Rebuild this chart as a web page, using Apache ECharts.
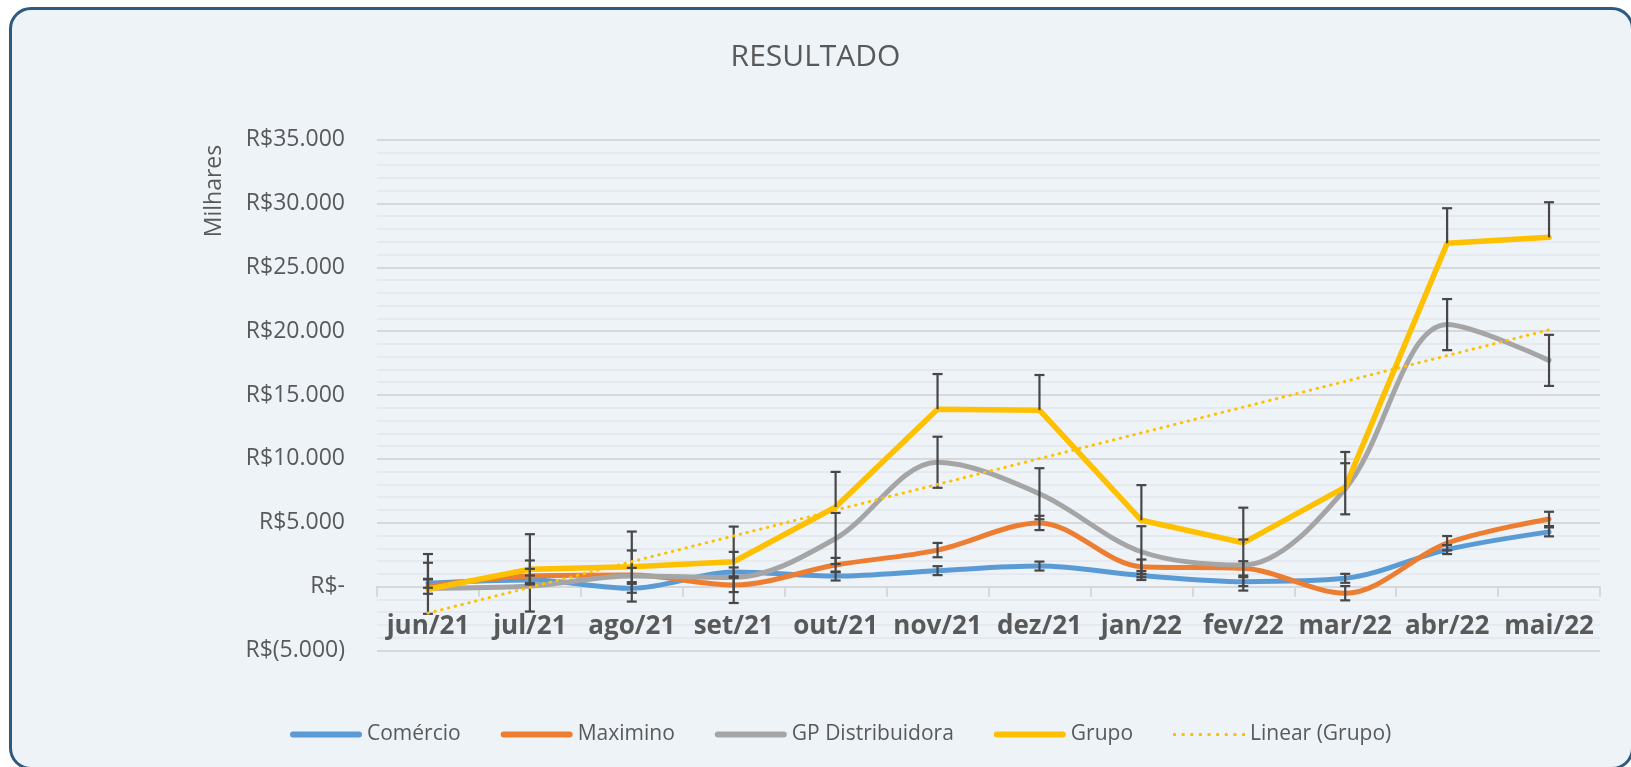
<!DOCTYPE html>
<html>
<head>
<meta charset="utf-8">
<title>RESULTADO</title>
<script src="https://cdn.jsdelivr.net/npm/echarts@6/dist/echarts.min.js"></script>
<style>
  html, body { margin: 0; padding: 0; background: #ffffff; }
  #frame {
    position: absolute; left: 9px; top: 7px;
    width: 1619px; height: 757px;
    border: 3px solid #2E5A80; border-radius: 22px;
    background: #EEF3F8;
  }
  #chart { position: absolute; left: 0; top: 0; width: 1631px; height: 767px; }
</style>
</head>
<body>
<div id="frame"></div>
<div id="chart"></div>
<script>
// dados (milhares de R$)
const months = ['jun/21', 'jul/21', 'ago/21', 'set/21', 'out/21', 'nov/21', 'dez/21', 'jan/22', 'fev/22', 'mar/22', 'abr/22', 'mai/22'];
const comercio = [260, 520, -130, 1150, 830, 1250, 1610, 870, 390, 650, 2900, 4285];
const maximino = [0, 830, 910, 130, 1690, 2860, 4985, 1560, 1430, -515, 3400, 5300];
const gpDistribuidora = [-130, 50, 830, 720, 3770, 9735, 7270, 2730, 1690, 7660, 20510, 17710];
const grupo = [-200, 1355, 1560, 1950, 6230, 13890, 13815, 5195, 3430, 7790, 26870, 27340];
// linha de tendência (primeiro e último mês)
const trendGrupo = [-2075, 20100];

// barras de erro (valor fixo por série)
const errComercio = 350;
const errMaximino = 560;
const errGP = 2000;
const errGrupoPlus = 2750;

const yTicks = { min: -5000, max: 35000, step: 5000 };

const textColor = '#595959';
const fontFam = '"Open Sans", "DejaVu Sans", sans-serif';

// ícones da legenda (linha grossa e pontilhado)
const iconLine = 'path://M3,0 H69 A3,3 0 0 1 69,6 H3 A3,3 0 0 1 3,0 Z';
let iconDots = 'path://';
for (let i = 0; i < 9; i++) {
  const x = (i * 8.6).toFixed(1);
  iconDots += 'M' + x + ',1.5 h3 v3 h-3 Z ';
}

function fmtThousands(v) {
  return String(Math.round(v)).replace(/\B(?=(\d{3})+(?!\d))/g, '.');
}
function fmtReal(v) {
  if (v === 0) return 'R$-';
  if (v < 0) return 'R$(' + fmtThousands(-v) + ')';
  return 'R$' + fmtThousands(v);
}

// [idx, low, high, lowCap]
function errData(values, minus, plus) {
  return values.map((v, i) => [i, v - minus, v + plus, minus > 0 ? 1 : 0]);
}

function renderErrorBar(params, api) {
  const idx = api.value(0);
  const lo = api.coord([idx, api.value(1)]);
  const hi = api.coord([idx, api.value(2)]);
  const half = 5;
  const style = { stroke: '#474747', lineWidth: 2.2, fill: null };
  const children = [
    { type: 'line', shape: { x1: hi[0], y1: hi[1], x2: lo[0], y2: lo[1] }, style },
    { type: 'line', shape: { x1: hi[0] - half, y1: hi[1], x2: hi[0] + half, y2: hi[1] }, style }
  ];
  if (api.value(3)) {
    children.push({ type: 'line', shape: { x1: lo[0] - half, y1: lo[1], x2: lo[0] + half, y2: lo[1] }, style });
  }
  return { type: 'group', children };
}

function lineSeries(name, data, color, smooth, width) {
  return {
    name, type: 'line', data, smooth, symbol: 'none',
    lineStyle: { color, width, cap: 'round', join: 'round' },
    itemStyle: { color },
    z: 3
  };
}

function errSeries(data) {
  return {
    type: 'custom', renderItem: renderErrorBar, data,
    encode: { x: 0, y: [1, 2] }, silent: true, z: 4
  };
}

const chart = echarts.init(document.getElementById('chart'));

const gridTop = 139.5, gridBottom = 116.5, gridH = 767 - gridTop - gridBottom;
// desloca o eixo x até o zero
const zeroOffset = -gridH * (0 - yTicks.min) / (yTicks.max - yTicks.min);

const option = {
  animation: false,
  backgroundColor: 'transparent',
  textStyle: { fontFamily: fontFam },
  title: {
    text: 'RESULTADO',
    left: 'center', top: 37,
    textStyle: { fontFamily: fontFam, fontSize: 30, fontWeight: 'normal', color: textColor }
  },
  legend: {
    left: 285, top: 719,
    itemWidth: 72, itemHeight: 6, itemGap: 40,
    textStyle: { fontFamily: fontFam, fontSize: 21, color: textColor },
    data: [
      { name: 'Comércio', icon: iconLine },
      { name: 'Maximino', icon: iconLine },
      { name: 'GP Distribuidora', icon: iconLine },
      { name: 'Grupo', icon: iconLine },
      { name: 'Linear (Grupo)', icon: iconDots }
    ]
  },
  grid: { left: 377, right: 31, top: gridTop, bottom: gridBottom, containLabel: false },
  xAxis: {
    type: 'category',
    data: months,
    boundaryGap: true,
    position: 'bottom',
    offset: zeroOffset,
    axisLine: { onZero: false, lineStyle: { color: '#D6D8DB', width: 2 } },
    axisTick: { show: true, length: 10, lineStyle: { color: '#D6D8DB', width: 2 } },
    axisLabel: { interval: 0, margin: 27, fontFamily: fontFam, fontSize: 26, fontWeight: 'bold', color: textColor },
    splitLine: { show: false }
  },
  yAxis: {
    type: 'value',
    min: yTicks.min, max: yTicks.max, interval: yTicks.step,
    axisLine: { show: false },
    axisTick: { show: false },
    axisLabel: { margin: 32, fontFamily: fontFam, fontSize: 23, color: textColor, formatter: fmtReal },
    splitLine: { lineStyle: { color: '#D6D8DB', width: 2 } },
    minorTick: { show: false, splitNumber: 5 },
    minorSplitLine: { show: true, lineStyle: { color: '#E3E8ED', width: 1.5 } }
  },
  graphic: [{
    type: 'text',
    x: 214, y: 191,
    rotation: Math.PI / 2,
    style: {
      text: 'Milhares', fill: textColor,
      font: '23px ' + fontFam,
      textAlign: 'center', textVerticalAlign: 'middle'
    }
  }],
  series: [
    lineSeries('Comércio', comercio, '#5B9BD5', 0.33, 5),
    lineSeries('Maximino', maximino, '#ED7D31', 0.33, 5),
    lineSeries('GP Distribuidora', gpDistribuidora, '#A5A5A5', 0.33, 5),
    lineSeries('Grupo', grupo, '#FFC000', false, 5.5),
    {
      name: 'Linear (Grupo)', type: 'line', symbol: 'none',
      data: [[0, trendGrupo[0]], [months.length - 1, trendGrupo[1]]],
      lineStyle: { color: '#FFC000', width: 3, type: [0.5, 6.5], cap: 'round' },
      itemStyle: { color: '#FFC000' },
      z: 5
    },
    errSeries(errData(comercio, errComercio, errComercio)),
    errSeries(errData(maximino, errMaximino, errMaximino)),
    errSeries(errData(gpDistribuidora, errGP, errGP)),
    errSeries(errData(grupo, 0, errGrupoPlus))
  ]
};

chart.setOption(option);
</script>
</body>
</html>
